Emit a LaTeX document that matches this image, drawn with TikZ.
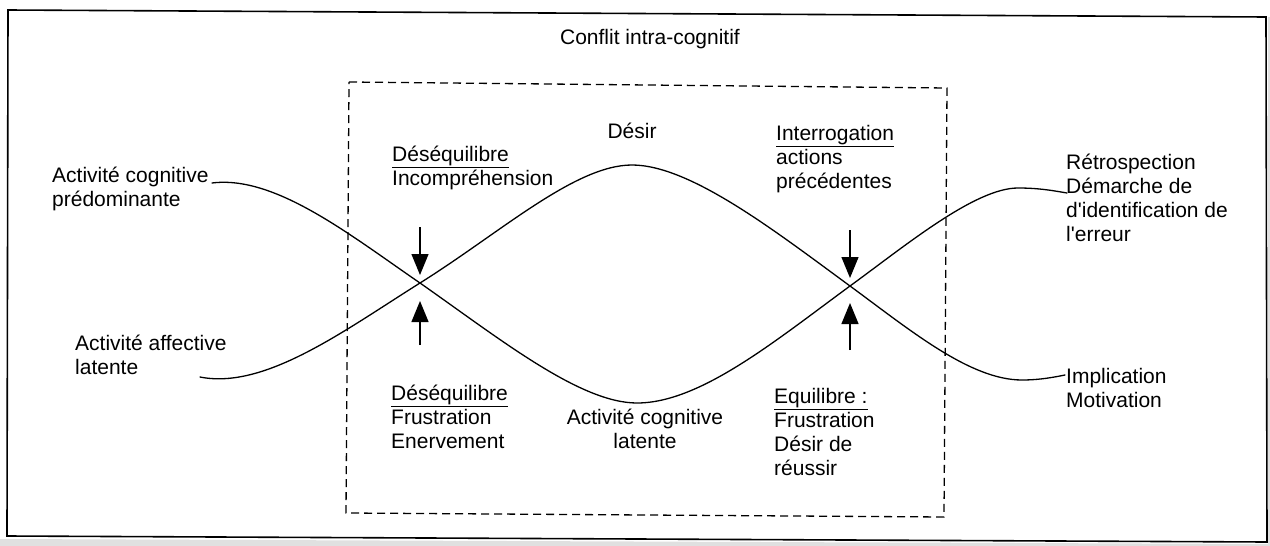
\documentclass[tikz,border=0pt]{standalone}
\usepackage{fontspec}
\setmainfont{Liberation Sans}
\usetikzlibrary{arrows.meta}
\begin{document}
\begin{tikzpicture}[x=1pt,y=-1pt,
  lbl/.style={inner sep=0pt, anchor=base west, align=left, font=\fontsize{21}{24}\selectfont},
  clbl/.style={inner sep=0pt, anchor=base, align=center, font=\fontsize{21}{24}\selectfont},
  curve/.style={line width=1.3pt, line join=round, line cap=round},
  marker/.style={line width=1.3pt, -{Triangle[length=21pt,width=17pt]}},
  frame/.style={line width=1.6pt},
  dbox/.style={line width=1.3pt, dash pattern=on 8pt off 5pt},
  scan/.style={fill=black!12, draw=none}]
\useasboundingbox (0,0) rectangle (1270,546);
% scan margin
\fill[scan] (0,539) -- (1270,544) -- (1270,546) -- (0,546) -- cycle;
\fill[scan] (1268,17) rectangle (1270,546);
% frames
\draw[frame] (8,10) -- (1266,17) -- (1267,542) -- (7,536) -- cycle;
\draw[dbox] (349,82) -- (947,88) -- (944,517) -- (346,513) -- cycle;
% labels (anchored at the baseline of their last line)
\node[clbl] (conflit) at (650,45) {Conflit intra-cognitif};
\node[clbl] (desir) at (632,138) {Désir};
\node[lbl] (acp) at (52,206) {Activité cognitive\\prédominante};
\node[lbl] (aal) at (75,374) {Activité affective\\latente};
\node[lbl] (des1) at (392,185) {\underline{Déséquilibre}\\Incompréhension};
\node[lbl] (inter) at (776,188) {\underline{Interrogation}\\actions\\précédentes};
\node[lbl] (retro) at (1066,241) {Rétrospection\\Démarche de\\d\textquotesingle identification de\\l\textquotesingle erreur};
\node[lbl] (des2) at (391,448) {\underline{Déséquilibre}\\Frustration\\Enervement};
\node[clbl] (acl) at (645,448) {Activité cognitive\\latente};
\node[lbl] (equi) at (774,475) {\underline{Equilibre :}\\Frustration\\Désir de\\réussir};
\node[lbl] (impl) at (1066,407) {Implication\\Motivation};
% key points
\coordinate (X1) at (420,283);
\coordinate (X2) at (850,286);
\coordinate (P) at (632,165);
\coordinate (T) at (637,403);
\coordinate (s1) at (212,183);
\coordinate (e1) at (1067,193);
\coordinate (s2) at (200,377);
\coordinate (e2) at (1065,375);
% cognitive curve
\draw[curve] (s1) .. controls (275,175) and (350,235) .. (X1)
  .. controls (500,339) and (580,403) .. (T)
  .. controls (700,403) and (775,341) .. (X2)
  .. controls (905,246) and (975,188) .. (1018,188)
  .. controls (1040,188) and (1055,191) .. (e1);
% affective curve
\draw[curve] (s2) .. controls (265,390) and (345,330) .. (X1)
  .. controls (500,233) and (575,165) .. (P)
  .. controls (690,165) and (775,231) .. (X2)
  .. controls (910,330) and (970,380) .. (1022,380)
  .. controls (1040,380) and (1055,377) .. (e2);
% arrows
\coordinate (a1) at (420,227);
\coordinate (b1) at (420,345);
\coordinate (a2) at (850,230);
\coordinate (b2) at (850,350);
\draw[marker] (a1) -- ([yshift=8pt]X1);
\draw[marker] (b1) -- ([yshift=-18pt]X1);
\draw[marker] (a2) -- ([yshift=8pt]X2);
\draw[marker] (b2) -- ([yshift=-17pt]X2);
\end{tikzpicture}
\end{document}
